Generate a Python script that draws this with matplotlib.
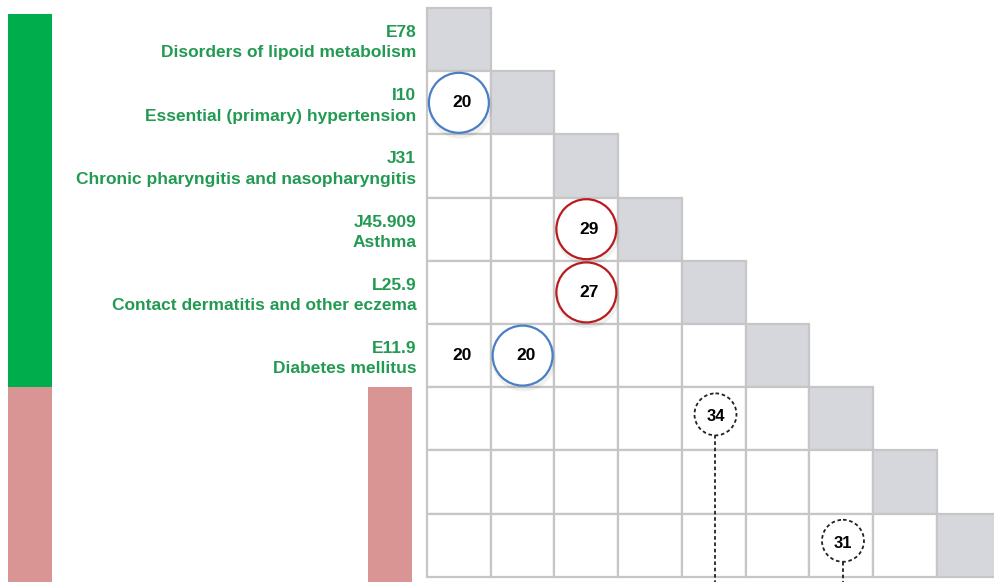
import matplotlib
matplotlib.use("Agg")
import matplotlib.pyplot as plt
from matplotlib.patches import Rectangle, Ellipse

# ---- data ----
codes = ["E78", "I10", "J31", "J45.909", "L25.9", "E11.9", "", "", ""]
names = ["Disorders of lipoid metabolism", "Essential (primary) hypertension",
         "Chronic pharyngitis and nasopharyngitis", "Asthma",
         "Contact dermatitis and other eczema", "Diabetes mellitus", "", "", ""]
group_of_row = ["green"] * 6 + ["pink"] * 3

cell_rows = [1, 3, 4, 5, 5, 6, 8]
cell_cols = [0, 2, 2, 0, 1, 4, 6]
cell_vals = [20, 29, 27, 20, 20, 34, 31]
cell_style = ["blue", "red", "red", "plain", "blue", "dashed", "dashed"]

# ---- style ----
W, H = 994, 582
CW, CH = 63.75, 63.2         # cell size in pixels
X0, Y0 = 427, 8              # grid origin in pixels
GRID = "#c6c6c6"
DIAG = "#d6d7dc"
GREEN_TXT = "#229a52"
GREEN_BAR = "#00ad4c"
PINK_BAR = "#d99594"
BLUE = "#4a7fc4"
RED = "#b81c1f"
DASH = (0, (2.0, 1.5))

fig = plt.figure(figsize=(W / 100, H / 100), dpi=100)
ax = fig.add_axes([0, 0, 1, 1])
ax.set_xlim(-X0 / CW, (W - X0) / CW)
ax.set_ylim((H - Y0) / CH, -Y0 / CH)
ax.axis("off")

n = len(codes)
# grid cells (lower triangle incl. diagonal)
for i in range(n):
    for j in range(i + 1):
        fc = DIAG if i == j else "white"
        ax.add_patch(Rectangle((j, i), 1, 1, facecolor=fc, edgecolor=GRID,
                               linewidth=1.6, zorder=1))

# row labels
for i in range(n):
    if codes[i]:
        ax.text(-0.17, i + 0.55, codes[i] + "\n" + names[i], ha="right",
                va="center", multialignment="right", color=GREEN_TXT,
                fontsize=12.5, fontweight="bold", family="Liberation Sans",
                linespacing=1.45, zorder=3)

# group bars
gx0, gx1 = (8 - X0) / CW, (52 - X0) / CW
green_rows = [i for i in range(n) if group_of_row[i] == "green"]
pink_rows = [i for i in range(n) if group_of_row[i] == "pink"]
gtop = (14 - Y0) / CH
ax.add_patch(Rectangle((gx0, gtop), gx1 - gx0, max(green_rows) + 1 - gtop,
                       facecolor=GREEN_BAR, edgecolor="none", zorder=2))
ybot = (H - Y0) / CH + 0.2
ax.add_patch(Rectangle((gx0, min(pink_rows)), gx1 - gx0, ybot - min(pink_rows),
                       facecolor=PINK_BAR, edgecolor="none", zorder=2))
px0, px1 = (368 - X0) / CW, (412 - X0) / CW
ax.add_patch(Rectangle((px0, min(pink_rows)), px1 - px0, ybot - min(pink_rows),
                       facecolor=PINK_BAR, edgecolor="none", zorder=2))

# cell values
for r, c, v, s in zip(cell_rows, cell_cols, cell_vals, cell_style):
    cx, cy = c + 0.5, r + 0.5
    if s in ("blue", "red"):
        rad = 30
        # soft shadow
        ax.add_patch(Ellipse((cx + 0.02, cy + 0.06), 2 * (rad + 2) / CW,
                             2 * (rad + 2) / CH, facecolor="#000000",
                             alpha=0.06, edgecolor="none", zorder=3))
        ax.add_patch(Ellipse((cx, cy), 2 * rad / CW, 2 * rad / CH,
                             facecolor="white",
                             edgecolor=BLUE if s == "blue" else RED,
                             linewidth=1.6, zorder=4))
        ax.text(cx + 0.05, cy, str(v), ha="center", va="center",
                fontsize=12.5, fontweight="bold", family="Liberation Sans",
                color="black", zorder=5)
    elif s == "dashed":
        rad = 21
        ccx, ccy = cx + 0.025, cy - 0.07
        ax.add_patch(Ellipse((ccx, ccy), 2 * rad / CW, 2 * rad / CH,
                             facecolor="white", edgecolor="#222222",
                             linewidth=1.3, linestyle=DASH, zorder=4))
        ax.plot([ccx, ccx], [ccy + rad / CH, ybot], color="#222222",
                linewidth=1.3, linestyle=DASH, zorder=3)
        ax.text(ccx, ccy + 0.04, str(v), ha="center", va="center",
                fontsize=12, fontweight="bold", family="Liberation Sans",
                color="black", zorder=5)
    else:
        ax.text(cx + 0.05, cy, str(v), ha="center", va="center",
                fontsize=12.5, fontweight="bold", family="Liberation Sans",
                color="black", zorder=5)

fig.savefig("out.png", dpi=100, facecolor="white")
